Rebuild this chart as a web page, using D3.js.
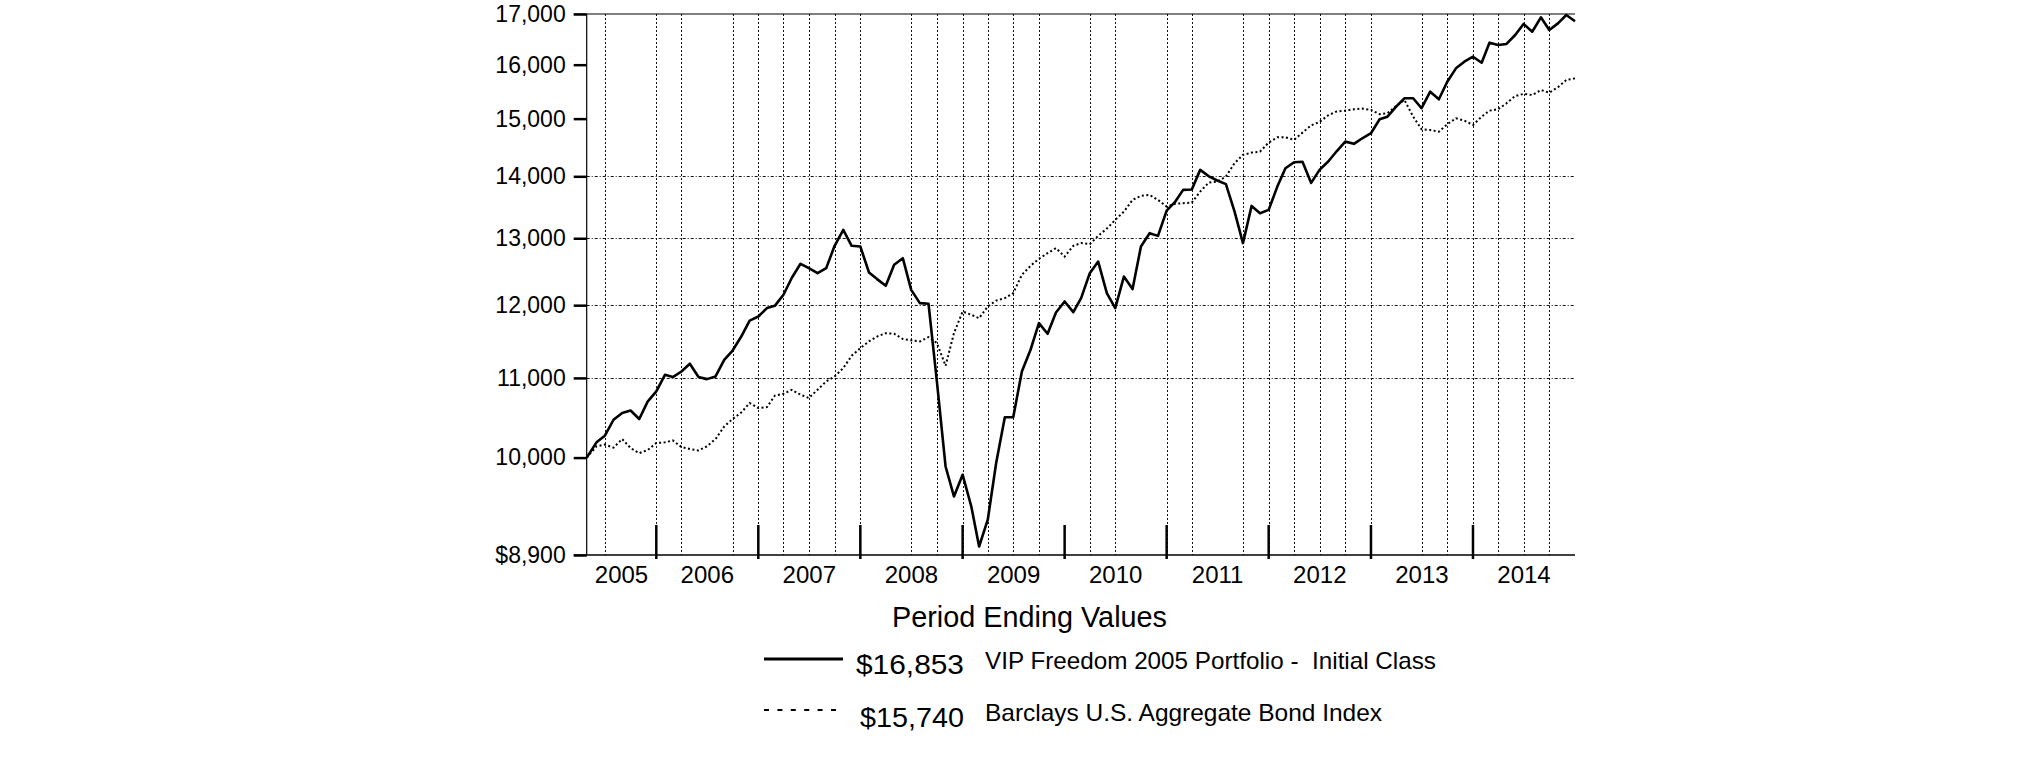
<!DOCTYPE html>
<html>
<head>
<meta charset="utf-8">
<script src="https://cdn.jsdelivr.net/npm/d3@7"></script>
<style>
  html, body { margin: 0; padding: 0; background: #fff; }
  svg { display: block; font-family: "Liberation Sans", Arial, sans-serif; }
</style>
</head>
<body>
<div id="chart"></div>
<script>
// Growth of $10,000, first point is the fund's start date, then month ends.
const inception = new Date(2005, 3, 26);
const periodEnd = new Date(2014, 11, 31);

const years = [2005, 2006, 2007, 2008, 2009, 2010, 2011, 2012, 2013, 2014];
const yTicks = [8900, 10000, 11000, 12000, 13000, 14000, 15000, 16000, 17000];
const yGridValues = [11000, 12000, 13000, 14000];
// Quarter ends that carry a dotted grid line in the original (some are absent).
const gridQuarters = [
  '2005-06', '2005-12',
  '2006-03', '2006-09', '2006-12',
  '2007-03', '2007-06', '2007-09', '2007-12',
  '2008-06', '2008-09', '2008-12',
  '2009-03', '2009-06', '2009-09',
  '2010-03', '2010-06', '2010-12',
  '2011-03', '2011-09', '2011-12',
  '2012-03', '2012-06', '2012-09', '2012-12',
  '2013-06', '2013-09', '2013-12',
  '2014-03', '2014-06', '2014-09'
];

const fundValues = [
  10000, 10184, 10265, 10463, 10547, 10579, 10472, 10693, 10824,
  11041, 11011, 11085, 11188, 11011, 10984, 11019, 11241, 11366, 11558, 11781, 11839,
  11958, 11990, 12150, 12400, 12609, 12543, 12468, 12544, 12883, 13131, 12883, 12873,
  12478, 12380, 12281, 12594, 12694, 12222, 12029, 12020, 10950, 9894, 9546, 9797,
  9433, 8991, 9284, 9935, 10495, 10495, 11084, 11377, 11745, 11596, 11895, 12053,
  11900, 12101, 12468, 12643, 12174, 11958, 12417, 12233, 12873, 13079, 13037, 13437,
  13583, 13775, 13780, 14108, 14000, 13930, 13870, 13420, 12925, 13513, 13396, 13449,
  13829, 14136, 14238, 14246, 13890, 14108, 14250, 14430, 14593, 14554, 14652, 14741,
  14989, 15035, 15217, 15370, 15370, 15188, 15492, 15351, 15677, 15930, 16058, 16153,
  16038, 16427, 16381, 16402, 16578, 16798, 16643, 16933, 16679, 16811, 16980, 16853
];

const indexValues = [
  10000, 10135, 10156, 10120, 10224, 10115, 10054, 10090, 10176,
  10184, 10207, 10127, 10103, 10086, 10135, 10224, 10379, 10472, 10555, 10674, 10610,
  10623, 10768, 10793, 10845, 10781, 10739, 10845, 10955, 11019, 11130, 11295, 11399,
  11491, 11558, 11605, 11596, 11524, 11505, 11491, 11550, 11469, 11160, 11605, 11909,
  11863, 11815, 11981, 12066, 12101, 12174, 12444, 12578, 12684, 12771, 12847, 12718,
  12883, 12925, 12909, 13037, 13151, 13289, 13421, 13611, 13676, 13692, 13611, 13503,
  13546, 13557, 13566, 13747, 13896, 13911, 13995, 14221, 14363, 14403, 14419, 14576,
  14669, 14669, 14623, 14751, 14880, 14940, 15060, 15130, 15144, 15169, 15181, 15157,
  15079, 15098, 15229, 15339, 15035, 14811, 14798, 14768, 14900, 15007, 14964, 14887,
  15035, 15144, 15169, 15278, 15412, 15450, 15431, 15523, 15474, 15574, 15710, 15740
];

const seriesNames = ['VIP Freedom 2005 Portfolio -  Initial Class', 'Barclays U.S. Aggregate Bond Index'];
const endLabels = ['$16,853', '$15,740'];

// Layout
const svgWidth = 2025;
const svgHeight = 761;
const plot = { left: 586.7, right: 1575, top: 14, bottom: 555 };

const svg = d3.select('#chart')
  .append('svg')
  .attr('width', svgWidth)
  .attr('height', svgHeight);

// point i sits at the inception date for i = 0, else at the end of the i-th month after it
const dateAt = (i) => (i === 0 ? inception : new Date(2005, 4 + i, 0));

const x = d3.scaleTime().domain([inception, periodEnd]).range([plot.left, plot.right]);
const y = d3.scaleLog().domain([yTicks[0], yTicks[yTicks.length - 1]]).range([plot.bottom, plot.top]);

// dotted grid
const grid = svg.append('g').attr('stroke', '#111').attr('stroke-width', 1);
grid.selectAll('line.h')
  .data(yGridValues)
  .join('line')
  .attr('class', 'h')
  .attr('x1', plot.left)
  .attr('x2', plot.right)
  .attr('y1', (d) => Math.round(y(d)) + 0.5)
  .attr('y2', (d) => Math.round(y(d)) + 0.5)
  .attr('stroke-dasharray', '3,2,1,2');

grid.selectAll('line.v')
  .data(gridQuarters.map((q) => {
    const [yy, mm] = q.split('-').map(Number);
    return new Date(yy, mm, 0);
  }))
  .join('line')
  .attr('class', 'v')
  .attr('x1', (d) => Math.round(x(d)) + 0.5)
  .attr('x2', (d) => Math.round(x(d)) + 0.5)
  .attr('y1', plot.top)
  .attr('y2', plot.bottom)
  .attr('stroke-dasharray', '2,2');

// y axis, log scale with fixed tick set
const yAxis = svg.append('g')
  .attr('transform', `translate(${plot.left},0)`)
  .call(
    d3.axisLeft(y)
      .tickValues(yTicks)
      .tickSize(13)
      .tickPadding(8)
      .tickFormat((d, i) => (i === 0 ? '$' : '') + d3.format(',')(d))
  );
yAxis.select('.domain').remove();
yAxis.selectAll('.tick line').attr('stroke', '#000').attr('stroke-width', 2.5);
yAxis.selectAll('.tick text')
  .attr('fill', '#000')
  .style('font-size', '23px')
  .style('font-family', '"Liberation Sans", Arial, sans-serif');

// frame: left axis, top rule, bottom axis
svg.append('line')
  .attr('x1', plot.left).attr('x2', plot.left)
  .attr('y1', plot.top).attr('y2', plot.bottom)
  .attr('stroke', '#000').attr('stroke-width', 1.2);
svg.append('line')
  .attr('x1', plot.left - 13).attr('x2', plot.right)
  .attr('y1', plot.top).attr('y2', plot.top)
  .attr('stroke', '#000').attr('stroke-width', 1.2);
svg.append('line')
  .attr('x1', plot.left - 13).attr('x2', plot.right)
  .attr('y1', plot.bottom).attr('y2', plot.bottom)
  .attr('stroke', '#000').attr('stroke-width', 1.5);

// year separators on the x axis
const yearEnds = years.slice(0, -1).map((yr) => new Date(yr, 11, 31));
svg.append('g')
  .selectAll('line')
  .data(yearEnds)
  .join('line')
  .attr('x1', (d) => x(d))
  .attr('x2', (d) => x(d))
  .attr('y1', plot.bottom - 30)
  .attr('y2', plot.bottom + 4)
  .attr('stroke', '#000')
  .attr('stroke-width', 2.5);

// year labels centred in each year's span
svg.append('g')
  .selectAll('text')
  .data(years)
  .join('text')
  .attr('x', (yr) => {
    const a = d3.max([inception, new Date(yr - 1, 11, 31)]);
    const b = new Date(yr, 11, 31);
    return (x(a) + x(b)) / 2;
  })
  .attr('y', 583)
  .attr('text-anchor', 'middle')
  .style('font-size', '24px')
  .text((yr) => yr);

// series
const line = d3.line()
  .x((d, i) => x(dateAt(i)))
  .y((d) => y(d));

svg.append('path')
  .datum(indexValues)
  .attr('fill', 'none')
  .attr('stroke', '#000')
  .attr('stroke-width', 2)
  .attr('stroke-dasharray', '2,2.5')
  .attr('d', line);

svg.append('path')
  .datum(fundValues)
  .attr('fill', 'none')
  .attr('stroke', '#000')
  .attr('stroke-width', 2.6)
  .attr('stroke-linejoin', 'round')
  .attr('d', line);

// legend
const legend = svg.append('g');
legend.append('text')
  .attr('x', 892)
  .attr('y', 627)
  .attr('textLength', 275)
  .attr('lengthAdjust', 'spacingAndGlyphs')
  .style('font-size', '29px')
  .text('Period Ending Values');

const legendRows = [
  { y: 659, dash: null, width: 3, valueY: 674, labelY: 669, valueW: 108, labelW: 451 },
  { y: 710, dash: '5,8.4', width: 2, valueY: 727, labelY: 721, valueW: 104, labelW: 397 }
];

legendRows.forEach((row, i) => {
  legend.append('line')
    .attr('x1', 764).attr('x2', 843)
    .attr('y1', row.y).attr('y2', row.y)
    .attr('stroke', '#000')
    .attr('stroke-width', row.width)
    .attr('stroke-dasharray', row.dash);
  legend.append('text')
    .attr('x', 964)
    .attr('y', row.valueY)
    .attr('text-anchor', 'end')
    .attr('textLength', row.valueW)
    .attr('lengthAdjust', 'spacingAndGlyphs')
    .style('font-size', '27px')
    .text(endLabels[i]);
  legend.append('text')
    .attr('x', 985)
    .attr('y', row.labelY)
    .attr('textLength', row.labelW)
    .attr('lengthAdjust', 'spacingAndGlyphs')
    .style('font-size', '24px')
    .style('white-space', 'pre')
    .text(seriesNames[i]);
});
</script>
</body>
</html>
